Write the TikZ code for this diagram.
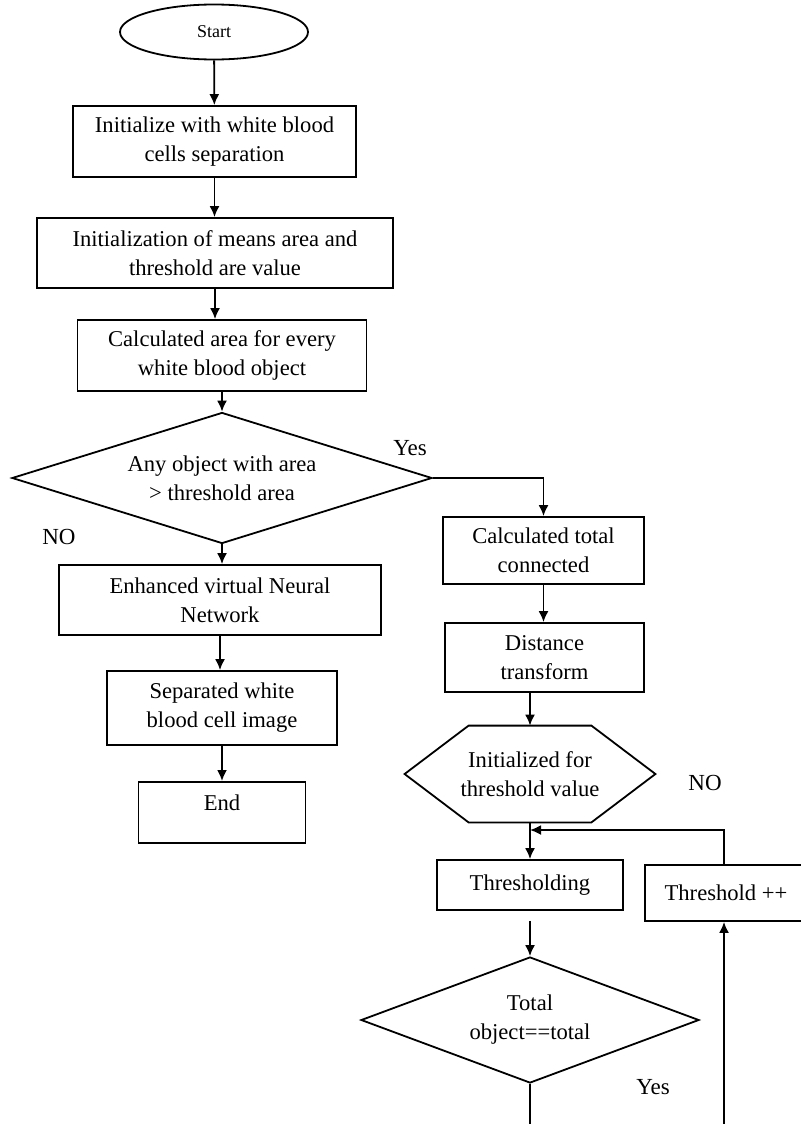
\documentclass[tikz,border=0pt]{standalone}
\usepackage{fontspec}
\setmainfont{Liberation Serif}
\usetikzlibrary{shapes.geometric,arrows.meta}

\begin{document}
\begin{tikzpicture}[x=0.5pt,y=-0.5pt,
    box/.style={draw, line width=0.9pt, align=center, inner sep=0pt,
                font=\fontsize{11.3}{14.5}\selectfont},
    decision/.style={draw, diamond, line width=0.9pt, align=center, inner sep=0pt,
                     aspect=3, font=\fontsize{11.3}{14.5}\selectfont},
    arr/.style={-{Latex[length=5.5pt,width=5pt]}, line width=0.9pt},
    lbl/.style={font=\fontsize{11.5}{13}\selectfont}]
            \useasboundingbox (0,0) rectangle (801,1124);
            \clip (0,0) rectangle (801,1124);

            % left column
            \node[draw, ellipse, line width=0.9pt, minimum width=94pt, minimum height=27.5pt,
                  font=\fontsize{9}{10}\selectfont] (start) at (214,32) {Start};
            \node[box, minimum width=141.5pt, minimum height=35.5pt] (init) at (214.5,141.5)
                {Initialize with white blood\\cells separation};
            \node[box, minimum width=178pt, minimum height=35pt] (means) at (215,253)
                {Initialization of means area and\\threshold are value};
            \node[box, minimum width=144.5pt, minimum height=35.5pt] (area) at (222,355.5)
                {Calculated area for every\\white blood object};
            \node[decision, minimum width=210pt, minimum height=65.5pt] (anyobj) at (222,478)
                {Any object with area\\> threshold area};
            \node[box, minimum width=161pt, minimum height=35pt] (enhanced) at (220,600)
                {Enhanced virtual Neural\\Network};
            \node[box, minimum width=115pt, minimum height=37pt] (separated) at (222,708)
                {Separated white\\blood cell image};
            \node[box, minimum width=83.5pt, text height=14.5pt, text depth=16pt, anchor=north] (finish) at (222,781)
                {End};

            \node[lbl] (yes1) at (410,448) {Yes};
            \node[lbl] (no1) at (59,537) {NO};

            % right column
            \node[box, minimum width=100.5pt, minimum height=33.5pt] (total) at (543.5,550.5)
                {Calculated total\\connected};
            \node[box, minimum width=99.5pt, minimum height=34.5pt] (dist) at (544.5,657.5)
                {Distance\\transform};
            \node[align=center, inner sep=0pt, minimum width=125pt, minimum height=48pt,
                  font=\fontsize{11.3}{14.5}\selectfont] (inithr) at (530,774)
                {Initialized for\\threshold value};
            \draw[line width=0.9pt] (inithr.west) -- ([xshift=32pt]inithr.north west)
                -- ([xshift=-32pt]inithr.north east) -- (inithr.east)
                -- ([xshift=-32pt]inithr.south east) -- ([xshift=32pt]inithr.south west) -- cycle;
            \node[box, minimum width=93pt, minimum height=25pt] (thr) at (530,885)
                {Thresholding};
            \node[box, minimum width=88pt, minimum height=28pt] (thrinc) at (733,893)
                {\hspace*{-7pt}Threshold ++};
            \node[decision, minimum width=169pt, minimum height=63pt] (totalobj) at (530,1020)
                {Total\\object==total};

            \node[lbl] (no2) at (705,783) {NO};
            \node[lbl] (yes2) at (653,1087) {Yes};

            \coordinate (loop) at (530,830);
            \coordinate (yesend) at (530,1130);
            \coordinate (noend) at (724,1130);

            % connectors
            \draw[arr] (start) -- (init);
            \draw[arr] (init.south) -- (init.south |- means.north);
            \draw[arr] (means.south) -- (means.south |- area.north);
            \draw[arr] (area.south) -- (area.south |- anyobj.north);
            \draw[arr] (anyobj.south) -- (anyobj.south |- enhanced.north);
            \draw[arr] (enhanced.south) -- (enhanced.south |- separated.north);
            \draw[arr] (separated.south) -- (separated.south |- finish.north);

            \draw[arr] (anyobj.east) -| (total.north);
            \draw[arr] (total.south) -- (total.south |- dist.north);
            \draw[arr] (inithr.north |- dist.south) -- (inithr.north);
            \draw[arr] (inithr.south) -- (thr.north);
            \draw[arr] (noend |- thrinc.north) |- (loop);
            \draw[arr] ([yshift=-5pt]thr.south) -- (totalobj.north);
            \draw[line width=0.9pt] (totalobj.south) -- (yesend);
            \draw[arr] (noend) -- (noend |- thrinc.south);
\end{tikzpicture}
\end{document}
